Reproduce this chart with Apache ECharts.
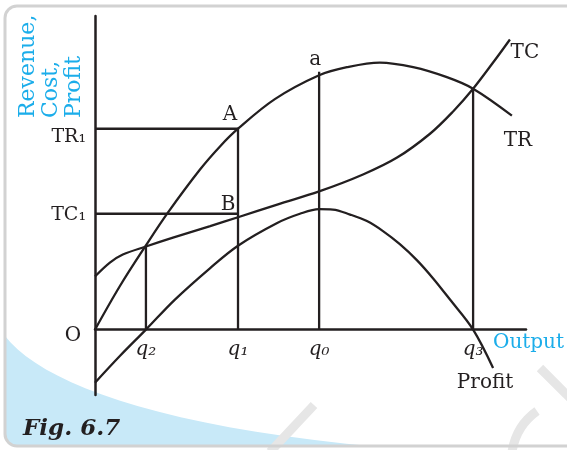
<!DOCTYPE html>
<html>
<head>
<meta charset="utf-8">
<script src="https://cdn.jsdelivr.net/npm/echarts@6.0.0/dist/echarts.min.js"></script>
<style>
  html, body { margin: 0; padding: 0; background: #fff; }
  #chart { width: 567px; height: 450px; }
</style>
</head>
<body>
<div id="chart"></div>
<script>
// curves: [output, revenue/cost/profit]
const trCurve = [[0, 0], [6.4, 11.4], [13.0, 21.9], [18.6, 30.4], [26.8, 41.6], [31.9, 47.6], [36.5, 52.2], [45.9, 59.9],
  [57.2, 66.1], [64.3, 68.2], [72.7, 69.4], [81.2, 68.2], [89.8, 65.6], [96.5, 62.6], [106.4, 55.6]];
const tcCurve = [[0, 13.8], [3.8, 17.4], [7.1, 19.5], [13.0, 21.6], [19.9, 23.9], [29.4, 26.9], [36.5, 29.2], [46.5, 32.5],
  [57.2, 35.9], [68.4, 40.3], [77.1, 44.7], [85.5, 50.9], [91.4, 56.7], [96.5, 62.6], [101.6, 69.4], [105.9, 75.4]];
const profitCurve = [[0, -13.8], [6.4, -6.8], [13.0, 0], [20.4, 7.8], [29.4, 16.0], [36.5, 21.8], [46.5, 27.7], [52.3, 30.1],
  [57.2, 31.3], [60.7, 31.2], [65.1, 29.9], [69.4, 28.2], [73.5, 25.6], [77.8, 22.2], [82.2, 18.0], [86.3, 13.3],
  [90.6, 7.8], [96.5, 0], [101.6, -10.0]];

// output levels q2, q1, q0, q3 and how high their drop lines go
const qTicks = [13.0, 36.5, 57.2, 96.5];
const qLabels = ['q₂', 'q₁', 'q₀', 'q₃'];
const qTops = [21.6, 52.2, 67.0, 62.6];

// TR1 / TC1 levels, drawn across to q1
const levelValues = [52.2, 30.1];
const levelLabels = ['TR₁', 'TC₁'];
const levelEnd = 36.5;

const ink = '#231f20';
const cyan = '#1badea';
const serif = 'DejaVu Serif';

const yMin = -17;
const yMax = 81.5;
const gridTop = 16;
const gridBottom = 55;
const plotHeight = 450 - gridTop - gridBottom;
// lift the output axis from the bottom of the grid up to zero
const xAxisLift = (yMin / (yMax - yMin)) * plotHeight;

const chart = echarts.init(document.getElementById('chart'));

// light blue swoosh in the bottom left corner of the page
function swoosh() {
  const p0 = [5, 336], p1 = [40, 381], p2 = [150, 426], p3 = [380, 447];
  const pts = [];
  for (let t = 0; t <= 1.0001; t += 0.05) {
    const a = (1 - t) ** 3, b = 3 * (1 - t) ** 2 * t, c = 3 * (1 - t) * t * t, d = t ** 3;
    pts.push([a * p0[0] + b * p1[0] + c * p2[0] + d * p3[0], a * p0[1] + b * p1[1] + c * p2[1] + d * p3[1]]);
  }
  pts.push([17, 447], [8, 444], [5, 435]);
  return pts;
}

const lineBase = {
  type: 'line',
  symbol: 'none',
  silent: true,
  animation: false,
  lineStyle: { color: ink, width: 2.3, cap: 'butt' },
};

const dropLines = qTicks.map((x, i) => ({ ...lineBase, data: [[x, 0], [x, qTops[i]]] }));
const levelLines = levelValues.map((y) => ({ ...lineBase, data: [[0, y], [levelEnd, y]] }));

const last = (arr) => arr[arr.length - 1];
const note = (value, text, offset) => ({ value, label: { formatter: text, offset } });

chart.setOption({
  animation: false,
  grid: { left: 95, right: 41, top: gridTop, bottom: gridBottom, outerBoundsMode: 'none' },
  xAxis: {
    type: 'value',
    min: 0,
    max: 110,
    offset: xAxisLift,
    name: 'Output',
    nameLocation: 'end',
    nameGap: -33,
    nameMoveOverlap: false,
    nameTextStyle: { color: cyan, fontFamily: serif, fontSize: 20, align: 'left', verticalAlign: 'top', padding: [3, 0, 0, 0] },
    axisLine: { onZero: false, lineStyle: { color: ink, width: 2.5 } },
    axisTick: { show: false },
    splitLine: { show: false },
    axisLabel: {
      customValues: qTicks,
      formatter: (v) => qLabels[qTicks.indexOf(v)] || '',
      color: ink,
      fontFamily: serif,
      fontStyle: 'italic',
      fontSize: 20,
      margin: 10,
    },
  },
  yAxis: {
    type: 'value',
    min: yMin,
    max: yMax,
    axisLine: { onZero: true, lineStyle: { color: ink, width: 2.5 } },
    axisTick: { show: false },
    splitLine: { show: false },
    axisLabel: {
      customValues: levelValues,
      formatter: (v) => {
        const i = levelValues.indexOf(v);
        return i === 0 ? '{tr|' + levelLabels[0] + '}' : '{tc|' + levelLabels[1] + '}';
      },
      color: ink,
      fontFamily: serif,
      fontSize: 19,
      margin: 9,
      rich: { tr: { padding: [16, 0, 0, 0] }, tc: { padding: [2, 0, 0, 0] } },
    },
  },
  graphic: [
    { type: 'polygon', z: -10, silent: true, shape: { points: swoosh() }, style: { fill: '#c8e9f8' } },
    { type: 'line', z: -9, silent: true, shape: { x1: 314, y1: 405, x2: 270, y2: 452 }, style: { stroke: '#e6e6e6', lineWidth: 9 } },
    { type: 'line', z: -9, silent: true, shape: { x1: 540, y1: 368, x2: 572, y2: 400 }, style: { stroke: '#e6e6e6', lineWidth: 9 } },
    {
      type: 'bezierCurve', z: -9, silent: true,
      shape: { x1: 537, y1: 411, cpx1: 516, cpy1: 426, x2: 512, y2: 452 },
      style: { stroke: '#e6e6e6', lineWidth: 9, fill: null },
    },
    {
      type: 'rect', z: -8, silent: true,
      shape: { x: 5, y: 6, width: 600, height: 440, r: 12 },
      style: { fill: null, stroke: '#d2d2d2', lineWidth: 3 },
    },
    {
      type: 'text', silent: true, x: 17, y: 118, rotation: Math.PI / 2,
      style: { text: 'Revenue,\nCost,\nProfit', fill: cyan, font: '22px "DejaVu Serif"', align: 'left', verticalAlign: 'top', lineHeight: 23 },
    },
    {
      type: 'text', silent: true, x: 23, y: 429,
      style: { text: 'Fig. 6.7', fill: ink, font: 'italic bold 23px "DejaVu Serif"', align: 'left', verticalAlign: 'middle' },
    },
  ],
  series: [
    { ...lineBase, name: 'TR', data: trCurve, smooth: 0.35 },
    { ...lineBase, name: 'TC', data: tcCurve, smooth: 0.35 },
    { ...lineBase, name: 'Profit', data: profitCurve, smooth: 0.35 },
    ...dropLines,
    ...levelLines,
    {
      type: 'scatter',
      silent: true,
      animation: false,
      symbolSize: 1,
      itemStyle: { color: 'rgba(0,0,0,0)', opacity: 1 },
      label: { show: true, position: 'inside', color: ink, opacity: 1, fontFamily: serif, fontSize: 20 },
      data: [
        note([0, 0], 'O', [-22, 6]),
        note([qTicks[1], qTops[1]], 'A', [-8, -14]),
        note([qTicks[2], qTops[2]], 'a', [-4, -12]),
        note([levelEnd, levelValues[1]], 'B', [-10, -9]),
        note(last(tcCurve), 'TC', [15, 13]),
        note(last(trCurve), 'TR', [6, 25]),
        note(last(profitCurve), 'Profit', [-8, 15]),
      ],
    },
  ],
});
</script>
</body>
</html>
